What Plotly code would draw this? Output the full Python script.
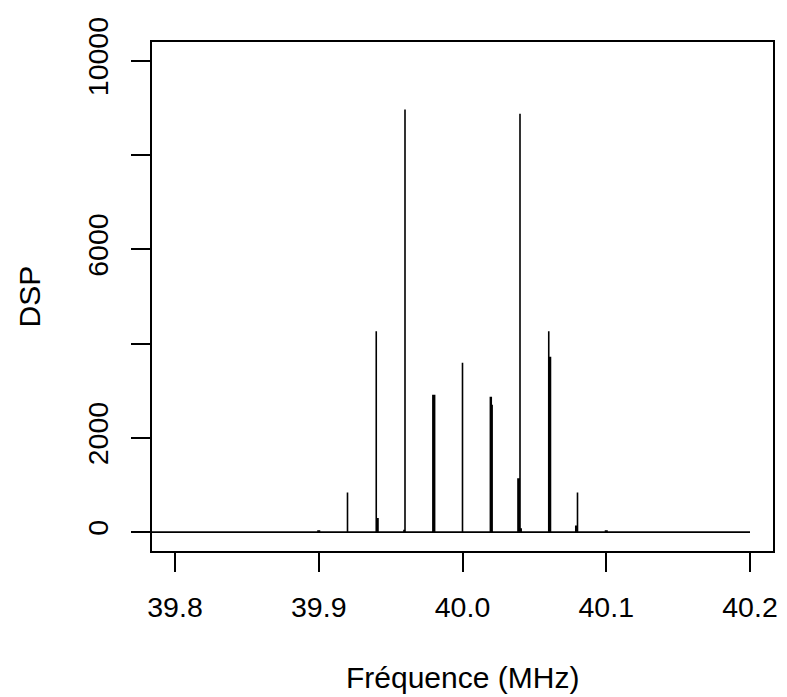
import plotly.graph_objects as go

# ---- data (MHz, DSP) ----
spike_freq = [39.8995, 39.9005, 39.9200, 39.9400, 39.9406, 39.9412,
              39.9593, 39.9600, 39.9794, 39.9800, 39.9806, 40.0000,
              40.0194, 40.0200, 40.0206, 40.0386, 40.0392, 40.0400, 40.0408,
              40.0600, 40.0606, 40.0612, 40.0788, 40.0794, 40.0800,
              40.0995, 40.1005]
spike_dsp = [40, 40, 843, 4262, 301, 301,
             50, 8968, 2914, 2914, 2914, 3596,
             2871, 2871, 2703, 1144, 1144, 8877, 84,
             4262, 3722, 3722, 141, 141, 843,
             40, 40]
freq_start = 39.78
freq_end = 40.2

x_ticks = [39.8, 39.9, 40.0, 40.1, 40.2]
x_ticktext = ["39.8", "39.9", "40.0", "40.1", "40.2"]
y_ticks = [0, 2000, 4000, 6000, 8000, 10000]
y_ticktext = ["0", "2000", "", "6000", "", "10000"]

# build the spectrum polyline
pairs = sorted(zip(spike_freq, spike_dsp))
xs = [freq_start]
ys = [0]
for f, h in pairs:
    xs += [f, f, f]
    ys += [0, h, 0]
xs.append(freq_end)
ys.append(0)

fig = go.Figure()
fig.add_trace(go.Scatter(x=xs, y=ys, mode="lines",
                         line=dict(color="black", width=1.6),
                         hoverinfo="skip", showlegend=False))

font_fam = "Liberation Sans, Arial, sans-serif"
fig.update_layout(
    width=779, height=689,
    margin=dict(l=144, r=9, t=27, b=146),
    paper_bgcolor="white", plot_bgcolor="white",
    font=dict(family=font_fam, color="black"),
    xaxis=dict(range=[39.784, 40.216], tickvals=x_ticks, ticktext=x_ticktext,
               ticks="outside", ticklen=19, tickwidth=1.6, tickcolor="black",
               showline=True, mirror=True, linecolor="black", linewidth=1.6,
               showgrid=False, zeroline=False,
               tickfont=dict(size=28.5, family=font_fam, color="black"),
               ticklabelstandoff=11),
    yaxis=dict(range=[-400, 10400], tickvals=y_ticks, ticktext=y_ticktext,
               ticks="outside", ticklen=19, tickwidth=1.6, tickcolor="black",
               showline=True, mirror=True, linecolor="black", linewidth=1.6,
               showgrid=False, zeroline=False, tickangle=-90,
               tickfont=dict(size=28.5, family=font_fam, color="black"),
               ticklabelstandoff=12),
    annotations=[
        dict(text="Fréquence (MHz)", xref="paper", yref="paper", x=0.5, y=0,
             xanchor="center", yanchor="middle", yshift=-126, showarrow=False,
             font=dict(size=30, family=font_fam, color="black")),
        dict(text="DSP", xref="paper", yref="paper", x=0, y=0.5,
             xanchor="center", yanchor="middle", xshift=-123, textangle=-90,
             showarrow=False,
             font=dict(size=30, family=font_fam, color="black")),
    ],
)

fig.write_html("out.html")
